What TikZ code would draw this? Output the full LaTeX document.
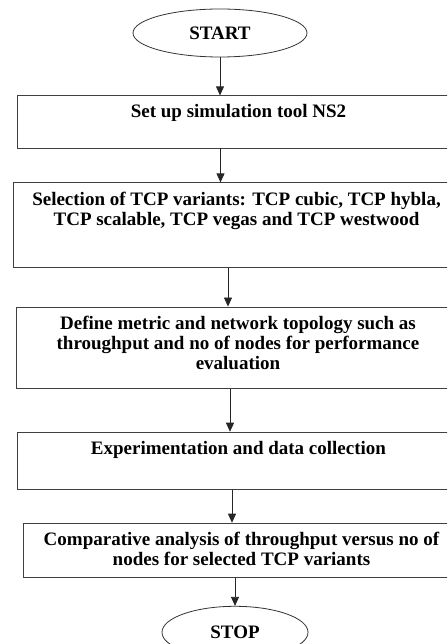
\documentclass[tikz,border=0pt]{standalone}
\usepackage{fontspec}
\setmainfont{Liberation Serif}
\usetikzlibrary{shapes,arrows.meta,positioning}

\begin{document}
\begin{tikzpicture}[
  x=1pt, y=1pt,
  term/.style={ellipse, draw=black!80, line width=0.8pt, inner sep=0pt, font=\fontsize{19}{20}\selectfont\bfseries},
  block/.style={rectangle, draw=black!75, line width=0.8pt, align=center, inner xsep=0pt, inner ysep=9pt, font=\fontsize{19}{20}\selectfont\bfseries},
  flow/.style={line width=0.8pt, black!85, -{Triangle[length=9pt,width=8pt]}}
  ]
  \useasboundingbox (0,0) rectangle (447,-644);
  \clip (0,0) rectangle (447,-644);

  \node[term, minimum width=174pt, minimum height=48pt] (start) at (220,-33) {START};
  \node[block, minimum width=443pt, text depth=21pt, below=38pt of start, xshift=18.5pt] (setup) {Set up simulation tool NS2};
  \node[block, minimum width=447pt, text depth=33pt, below=34pt of setup.south west, anchor=north west, xshift=-4pt] (select)
    {Selection of TCP variants: TCP cubic, TCP hybla,\\TCP scalable, TCP vegas and TCP westwood};
  \node[block, minimum width=444pt, text depth=10pt, below=39pt of select.south west, anchor=north west, xshift=3pt] (define)
    {Define metric and network topology such as\\throughput and no of nodes for performance\\evaluation};
  \node[block, minimum width=443pt, text depth=26pt, below=43pt of define.south west, anchor=north west, xshift=1pt] (exper)
    {Experimentation and data collection};
  \node[block, minimum width=437pt, text depth=3pt, below=33pt of exper.south west, anchor=north west, xshift=6pt] (compare)
    {Comparative analysis of throughput versus no of\\nodes for selected TCP variants};
  \node[term, minimum width=146pt, minimum height=52pt, below=28pt of compare, xshift=-6.5pt] (stop) {STOP};

  \draw[flow] (start.south) -- (start.south |- setup.north);
  \draw[flow] ([xshift=-18pt]setup.south) -- ([xshift=-18pt]setup.south |- select.north);
  \draw[flow] ([xshift=-8.5pt]select.south) -- ([xshift=-8.5pt]select.south |- define.north);
  \draw[flow] ([xshift=-8pt]define.south) -- ([xshift=-8pt]define.south |- exper.north);
  \draw[flow] ([xshift=-6.5pt]exper.south) -- ([xshift=-6.5pt]exper.south |- compare.north);
  \draw[flow] (compare.south -| stop.north) -- (stop.north);
\end{tikzpicture}
\end{document}
